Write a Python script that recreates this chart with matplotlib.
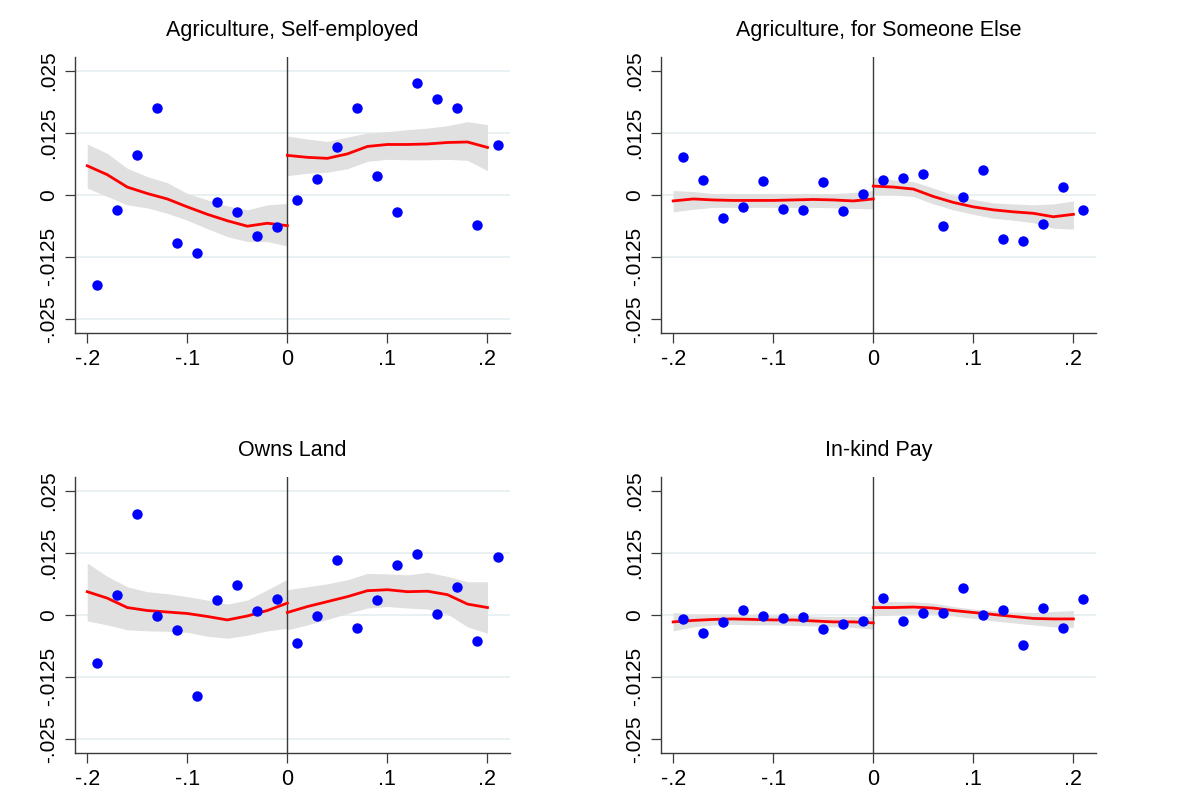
import matplotlib
matplotlib.use("Agg")
import matplotlib.pyplot as plt

plt.rcParams['font.family'] = ['Liberation Sans', 'DejaVu Sans']

titles = ["Agriculture, Self-employed", "Agriculture, for Someone Else",
          "Owns Land", "In-kind Pay"]

# binned means
bins_left = [-0.19, -0.17, -0.15, -0.13, -0.11, -0.09, -0.07, -0.05, -0.03, -0.01]
bins_right = [0.01, 0.03, 0.05, 0.07, 0.09, 0.11, 0.13, 0.15, 0.17, 0.19, 0.21]

self_emp_left = [-0.0181, -0.0030, 0.0080, 0.0175, -0.0096, -0.0117, -0.0014, -0.0035, -0.0083, -0.0065]
self_emp_right = [-0.0010, 0.0033, 0.0097, 0.0175, 0.0039, -0.0034, 0.0227, 0.0194, 0.0175, -0.0061, 0.0101]

someone_left = [0.0077, 0.0030, -0.0047, -0.0024, 0.0028, -0.0028, -0.0030, 0.0027, -0.0032, 0.0001]
someone_right = [0.0030, 0.0034, 0.0043, -0.0062, -0.0005, 0.0051, -0.0089, -0.0093, -0.0058, 0.0016, -0.0030]

land_left = [-0.0097, 0.0041, 0.0204, -0.0003, -0.0030, -0.0163, 0.0030, 0.0061, 0.0008, 0.0032]
land_right = [-0.0056, -0.0002, 0.0111, -0.0026, 0.0030, 0.0100, 0.0124, 0.0001, 0.0057, -0.0053, 0.0118]

inkind_left = [-0.0008, -0.0037, -0.0014, 0.0011, -0.0002, -0.0006, -0.0005, -0.0028, -0.0018, -0.0013]
inkind_right = [0.0034, -0.0013, 0.0005, 0.0005, 0.0055, 0.0000, 0.0010, -0.0061, 0.0014, -0.0027, 0.0032]

# local fits with confidence bands
fit_x_left = [-0.20, -0.18, -0.16, -0.14, -0.12, -0.10, -0.08, -0.06, -0.04, -0.02, 0.0]
fit_x_right = [0.0, 0.02, 0.04, 0.06, 0.08, 0.10, 0.12, 0.14, 0.16, 0.18, 0.20]

self_emp_fit_left = [0.0059, 0.0041, 0.0016, 0.0003, -0.0008, -0.0024, -0.0039, -0.0052, -0.0063, -0.0057, -0.0062]
self_emp_hi_left = [0.0103, 0.0084, 0.0054, 0.0037, 0.0025, 0.0003, -0.0010, -0.0022, -0.0030, -0.0020, -0.0017]
self_emp_lo_left = [0.0014, -0.0003, -0.0020, -0.0026, -0.0037, -0.0051, -0.0068, -0.0084, -0.0094, -0.0094, -0.0103]
self_emp_fit_right = [0.0080, 0.0076, 0.0074, 0.0083, 0.0098, 0.0102, 0.0102, 0.0103, 0.0106, 0.0107, 0.0096]
self_emp_hi_right = [0.0119, 0.0113, 0.0108, 0.0117, 0.0125, 0.0128, 0.0132, 0.0135, 0.0140, 0.0148, 0.0142]
self_emp_lo_right = [0.0039, 0.0044, 0.0046, 0.0053, 0.0068, 0.0072, 0.0071, 0.0071, 0.0072, 0.0070, 0.0049]

someone_fit_left = [-0.0012, -0.0008, -0.0010, -0.0011, -0.0011, -0.0011, -0.0010, -0.0009, -0.0010, -0.0012, -0.0008]
someone_hi_left = [0.0009, 0.0007, 0.0003, 0.0003, 0.0003, 0.0003, 0.0003, 0.0003, 0.0003, 0.0005, 0.0009]
someone_lo_left = [-0.0034, -0.0029, -0.0025, -0.0025, -0.0025, -0.0025, -0.0025, -0.0025, -0.0026, -0.0027, -0.0028]
someone_fit_right = [0.0018, 0.0016, 0.0012, -0.0003, -0.0015, -0.0024, -0.0030, -0.0034, -0.0037, -0.0044, -0.0039]
someone_hi_right = [0.0036, 0.0030, 0.0027, 0.0014, 0.0000, -0.0009, -0.0016, -0.0018, -0.0020, -0.0018, -0.0012]
someone_lo_right = [0.0000, 0.0000, -0.0003, -0.0018, -0.0030, -0.0039, -0.0047, -0.0051, -0.0056, -0.0067, -0.0069]

land_fit_left = [0.0047, 0.0034, 0.0015, 0.0009, 0.0006, 0.0003, -0.0003, -0.0010, -0.0002, 0.0009, 0.0024]
land_hi_left = [0.0105, 0.0078, 0.0057, 0.0047, 0.0043, 0.0037, 0.0030, 0.0022, 0.0030, 0.0051, 0.0072]
land_lo_left = [-0.0012, -0.0020, -0.0030, -0.0032, -0.0033, -0.0035, -0.0043, -0.0047, -0.0041, -0.0032, -0.0027]
land_fit_right = [0.0005, 0.0017, 0.0027, 0.0037, 0.0049, 0.0051, 0.0047, 0.0048, 0.0041, 0.0022, 0.0015]
land_hi_right = [0.0051, 0.0057, 0.0063, 0.0071, 0.0084, 0.0083, 0.0081, 0.0086, 0.0078, 0.0067, 0.0067]
land_lo_right = [-0.0030, -0.0020, -0.0009, 0.0003, 0.0014, 0.0017, 0.0014, 0.0012, 0.0002, -0.0024, -0.0037]

inkind_fit_left = [-0.0014, -0.0011, -0.0009, -0.0008, -0.0009, -0.0010, -0.0010, -0.0012, -0.0014, -0.0014, -0.0016]
inkind_hi_left = [0.0005, 0.0002, 0.0002, 0.0002, 0.0001, 0.0000, 0.0000, -0.0002, -0.0003, -0.0003, -0.0002]
inkind_lo_left = [-0.0032, -0.0024, -0.0020, -0.0019, -0.0020, -0.0020, -0.0021, -0.0022, -0.0024, -0.0025, -0.0029]
inkind_fit_right = [0.0015, 0.0015, 0.0016, 0.0014, 0.0009, 0.0005, 0.0001, -0.0003, -0.0007, -0.0008, -0.0008]
inkind_hi_right = [0.0030, 0.0027, 0.0027, 0.0024, 0.0017, 0.0012, 0.0009, 0.0006, 0.0005, 0.0007, 0.0009]
inkind_lo_right = [-0.0002, 0.0000, 0.0002, 0.0002, -0.0002, -0.0007, -0.0012, -0.0016, -0.0020, -0.0024, -0.0025]

y_ticks = [-0.025, -0.0125, 0, 0.0125, 0.025]
y_tick_labels = ["-.025", "-.0125", "0", ".0125", ".025"]
x_ticks = [-0.2, -0.1, 0, 0.1, 0.2]
x_tick_labels = ["-.2", "-.1", "0", ".1", ".2"]

panels = [
    (self_emp_left, self_emp_right, self_emp_fit_left, self_emp_hi_left, self_emp_lo_left,
     self_emp_fit_right, self_emp_hi_right, self_emp_lo_right, y_ticks),
    (someone_left, someone_right, someone_fit_left, someone_hi_left, someone_lo_left,
     someone_fit_right, someone_hi_right, someone_lo_right, y_ticks[1:4]),
    (land_left, land_right, land_fit_left, land_hi_left, land_lo_left,
     land_fit_right, land_hi_right, land_lo_right, y_ticks),
    (inkind_left, inkind_right, inkind_fit_left, inkind_hi_left, inkind_lo_left,
     inkind_fit_right, inkind_hi_right, inkind_lo_right, y_ticks[1:4]),
]

positions = [
    [0.0629, 0.5831, 0.3664, 0.3451],
    [0.5561, 0.5831, 0.3664, 0.3451],
    [0.0629, 0.0568, 0.3664, 0.3451],
    [0.5561, 0.0568, 0.3664, 0.3451],
]

fig = plt.figure(figsize=(11.88, 7.98), dpi=100)

for title, pos, p in zip(titles, positions, panels):
    pts_l, pts_r, fl, hl, ll, fr, hr, lr, grid_levels = p
    ax = fig.add_axes(pos)
    for g in grid_levels:
        ax.axhline(g, color='#e6eff1', lw=1.3, zorder=0)
    ax.fill_between(fit_x_left, ll, hl, color='#e0e0e0', lw=0, zorder=1)
    ax.fill_between(fit_x_right, lr, hr, color='#e0e0e0', lw=0, zorder=1)
    ax.axvline(0, color='#3a3a3a', lw=1.0, zorder=2)
    ax.plot(fit_x_left, fl, color='red', lw=2.0, zorder=3)
    ax.plot(fit_x_right, fr, color='red', lw=2.0, zorder=3)
    ax.plot(bins_left, pts_l, 'o', color='blue', ms=7.5, mec='none', zorder=4)
    ax.plot(bins_right, pts_r, 'o', color='blue', ms=7.5, mec='none', zorder=4)

    ax.set_xlim(-0.2125, 0.2225)
    ax.set_ylim(-0.0278, 0.0278)
    ax.set_xticks(x_ticks)
    ax.set_xticklabels(x_tick_labels, fontsize=15.5)
    ax.set_yticks(y_ticks)
    ax.set_yticklabels(y_tick_labels, fontsize=15, rotation=90, va='center')
    ax.tick_params(length=7, width=0.9, color='#3a3a3a', pad=5)
    for side in ['top', 'right']:
        ax.spines[side].set_visible(False)
    for side in ['left', 'bottom']:
        ax.spines[side].set_color('#3a3a3a')
        ax.spines[side].set_linewidth(1.0)
    ax.set_title(title, fontsize=15.5, pad=15)

fig.savefig("out.png", dpi=100)
